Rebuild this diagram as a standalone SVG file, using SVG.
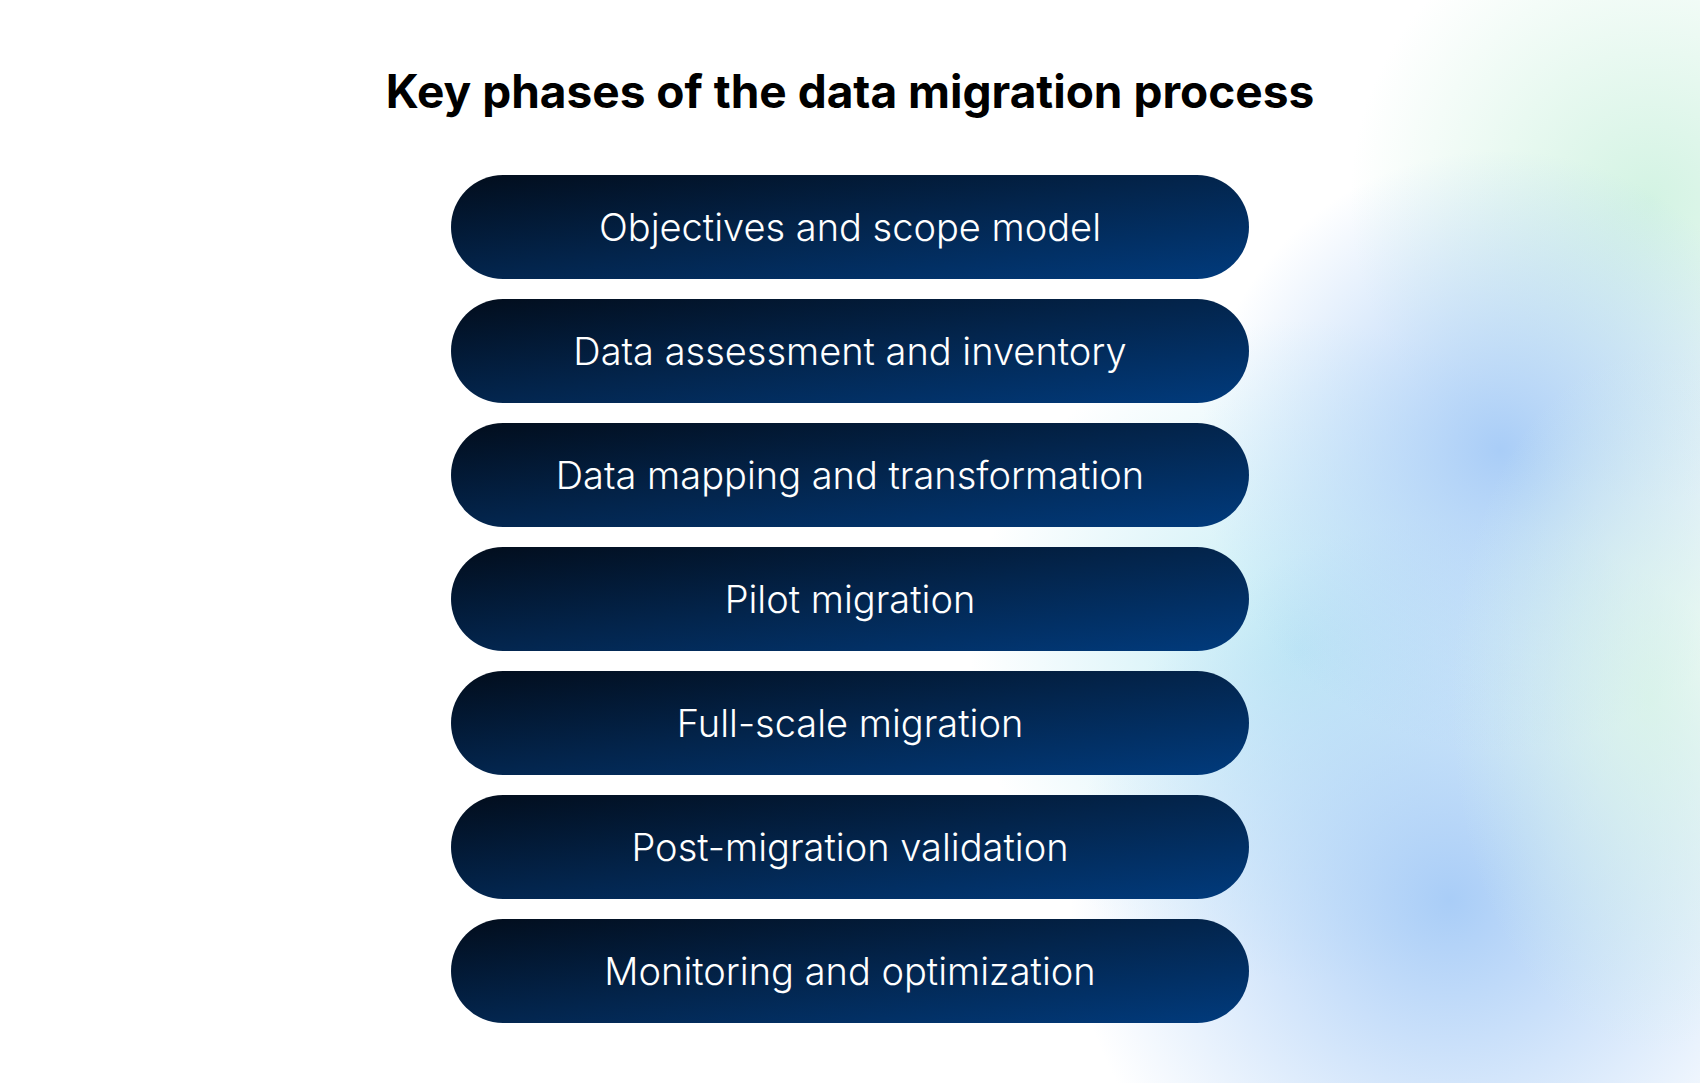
<svg xmlns="http://www.w3.org/2000/svg" width="1700" height="1083" viewBox="0 0 1700 1083">
<defs>
<linearGradient id="pill" x1="0" y1="0" x2="1" y2="1">
<stop offset="0" stop-color="#020d1c"/><stop offset="0.5" stop-color="#03254d"/><stop offset="1" stop-color="#013b7d"/>
</linearGradient>
<radialGradient id="blue" cx="0.5" cy="0.5" r="0.5">
<stop offset="0" stop-color="#a9cdf7" stop-opacity="1"/><stop offset="1" stop-color="#a9cdf7" stop-opacity="0"/>
</radialGradient>
<radialGradient id="cyan" cx="0.5" cy="0.5" r="0.5">
<stop offset="0" stop-color="#c3ecf5" stop-opacity="1"/><stop offset="1" stop-color="#c3ecf5" stop-opacity="0"/>
</radialGradient>
<radialGradient id="green" cx="0.5" cy="0.5" r="0.5">
<stop offset="0" stop-color="#d3f3e3" stop-opacity="1"/><stop offset="1" stop-color="#d3f3e3" stop-opacity="0"/>
</radialGradient>
<style>
.lbl{font-family:Inter,"Liberation Sans",sans-serif;font-size:38px;font-weight:300;fill:#ffffff;text-anchor:middle;dominant-baseline:central}
.title{font-family:Inter,"Liberation Sans",sans-serif;font-size:46px;font-weight:700;fill:#000;text-anchor:middle}
</style>
</defs>
<rect width="1700" height="1083" fill="#ffffff"/>
<ellipse cx="1650" cy="200" rx="300" ry="300" fill="url(#green)"/>
<ellipse cx="1300" cy="650" rx="330" ry="330" fill="url(#cyan)"/>
<ellipse cx="1450" cy="900" rx="380" ry="380" fill="url(#blue)"/>
<ellipse cx="1500" cy="450" rx="300" ry="300" fill="url(#blue)"/>
<ellipse cx="1650" cy="700" rx="200" ry="350" fill="url(#green)" opacity="0.7"/>
<text class="title" x="850" y="108">Key phases of the data migration process</text>
<g id="n1"><rect x="451" y="175" width="798" height="104" rx="52" fill="url(#pill)"/><text class="lbl" x="850" y="227">Objectives and scope model</text></g>
<g id="n2"><rect x="451" y="299" width="798" height="104" rx="52" fill="url(#pill)"/><text class="lbl" x="850" y="351">Data assessment and inventory</text></g>
<g id="n3"><rect x="451" y="423" width="798" height="104" rx="52" fill="url(#pill)"/><text class="lbl" x="850" y="475">Data mapping and transformation</text></g>
<g id="n4"><rect x="451" y="547" width="798" height="104" rx="52" fill="url(#pill)"/><text class="lbl" x="850" y="599">Pilot migration</text></g>
<g id="n5"><rect x="451" y="671" width="798" height="104" rx="52" fill="url(#pill)"/><text class="lbl" x="850" y="723">Full-scale migration</text></g>
<g id="n6"><rect x="451" y="795" width="798" height="104" rx="52" fill="url(#pill)"/><text class="lbl" x="850" y="847">Post-migration validation</text></g>
<g id="n7"><rect x="451" y="919" width="798" height="104" rx="52" fill="url(#pill)"/><text class="lbl" x="850" y="971">Monitoring and optimization</text></g>
<g id="connectors"/>
</svg>
